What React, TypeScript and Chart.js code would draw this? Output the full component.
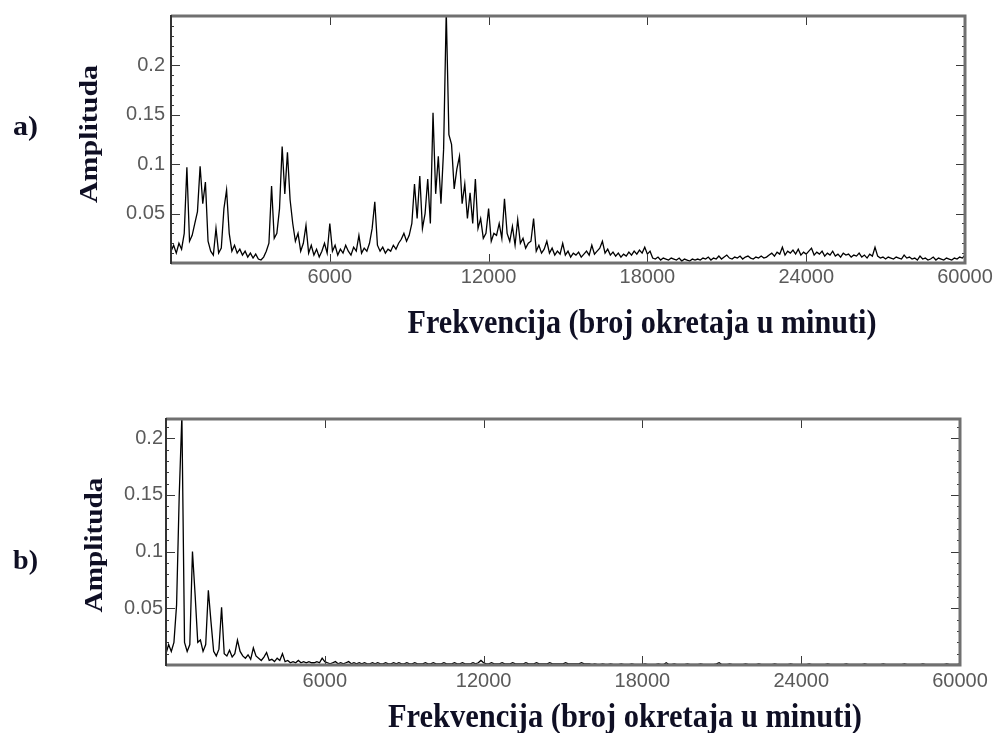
import React, { useEffect, useRef } from "react";
import { Chart, registerables } from "chart.js";

Chart.register(...registerables);

// ---------------- data ----------------
const FREQ_STEP = 100; // rpm per spectral bin
const X_MAX = 30000;
const X_TICK_VALUES = [6000, 12000, 18000, 24000, 30000];
const X_TICK_LABELS = ["6000", "12000", "18000", "24000", "60000"];
const Y_TICK_VALUES = [0.05, 0.1, 0.15, 0.2];
const Y_TICK_LABELS = ["0.05", "0.1", "0.15", "0.2"];
const Y_MINOR_STEP = 0.01;
const Y_MAX_A = 0.25;
const Y_MAX_B = 0.217;

const X_TITLE = "Frekvencija (broj okretaja u minuti)";
const Y_TITLE = "Amplituda";
const PANEL_LABELS = ["a)", "b)"];

// amplitude spectrum a) — one value per 100 rpm, 0 … 30000
const AMP_A = [
  0.012, 0.018, 0.010, 0.020, 0.014, 0.030, 0.097, 0.022, 0.028, 0.040,
  0.052, 0.098, 0.060, 0.082, 0.022, 0.012, 0.008, 0.035, 0.010, 0.015,
  0.055, 0.074, 0.030, 0.012, 0.018, 0.010, 0.014, 0.008, 0.012, 0.006,
  0.010, 0.005, 0.009, 0.004, 0.003, 0.006, 0.012, 0.020, 0.078, 0.025,
  0.030, 0.055, 0.118, 0.070, 0.112, 0.064, 0.040, 0.022, 0.030, 0.012,
  0.020, 0.038, 0.010, 0.018, 0.008, 0.014, 0.006, 0.012, 0.020, 0.010,
  0.040, 0.012, 0.018, 0.008, 0.014, 0.010, 0.018, 0.012, 0.008, 0.016,
  0.012, 0.028, 0.010, 0.015, 0.012, 0.020, 0.035, 0.062, 0.018, 0.012,
  0.016, 0.010, 0.014, 0.012, 0.018, 0.014, 0.020, 0.024, 0.030, 0.022,
  0.028, 0.040, 0.080, 0.045, 0.088, 0.035, 0.050, 0.085, 0.040, 0.152,
  0.070, 0.108, 0.060, 0.115, 0.255, 0.130, 0.120, 0.075, 0.095, 0.108,
  0.060, 0.080, 0.045, 0.071, 0.040, 0.085, 0.035, 0.045, 0.025, 0.030,
  0.055, 0.022, 0.030, 0.028, 0.040, 0.025, 0.065, 0.030, 0.022, 0.037,
  0.018, 0.044, 0.020, 0.025, 0.015, 0.020, 0.022, 0.045, 0.012, 0.018,
  0.010, 0.014, 0.022, 0.010, 0.015, 0.008, 0.012, 0.009, 0.020, 0.008,
  0.012, 0.006, 0.010, 0.008, 0.011, 0.006, 0.009, 0.012, 0.008, 0.018,
  0.009, 0.012, 0.015, 0.022, 0.010, 0.014, 0.008, 0.011, 0.007, 0.010,
  0.006, 0.009, 0.007, 0.011, 0.008, 0.012, 0.009, 0.013, 0.010, 0.016,
  0.009, 0.012, 0.005, 0.004, 0.006, 0.003, 0.005, 0.004, 0.003, 0.005,
  0.004, 0.003, 0.005, 0.002, 0.004, 0.003, 0.002, 0.004, 0.003, 0.004,
  0.003, 0.005, 0.004, 0.006, 0.003, 0.005, 0.004, 0.007, 0.004, 0.006,
  0.008, 0.005, 0.004, 0.006, 0.005, 0.007, 0.004, 0.006, 0.007, 0.005,
  0.004, 0.006, 0.005, 0.007, 0.005, 0.006, 0.008, 0.010, 0.007, 0.011,
  0.009, 0.016, 0.008, 0.012, 0.010, 0.013, 0.009, 0.014, 0.008, 0.011,
  0.009, 0.012, 0.015, 0.008, 0.011, 0.009, 0.012, 0.007, 0.010, 0.008,
  0.012, 0.007, 0.009, 0.006, 0.010, 0.008, 0.009, 0.006, 0.008, 0.007,
  0.010, 0.006, 0.008, 0.005, 0.009, 0.007, 0.016, 0.007, 0.005, 0.006,
  0.004, 0.006, 0.005, 0.004, 0.006, 0.005, 0.004, 0.008, 0.005, 0.006,
  0.004, 0.005, 0.003, 0.007, 0.004, 0.005, 0.003, 0.004, 0.006, 0.003,
  0.005, 0.004, 0.003, 0.005, 0.004, 0.003, 0.005, 0.004, 0.006, 0.005,
  0.008,
];

// amplitude spectrum b) — one value per 100 rpm, 0 … 30000
const AMP_B = [
  0.010, 0.018, 0.012, 0.020, 0.053, 0.150, 0.220, 0.020, 0.012, 0.018,
  0.100, 0.062, 0.020, 0.022, 0.012, 0.018, 0.066, 0.038, 0.012, 0.008,
  0.014, 0.051, 0.010, 0.008, 0.013, 0.007, 0.010, 0.022, 0.012, 0.008,
  0.006, 0.009, 0.005, 0.015, 0.008, 0.006, 0.004, 0.007, 0.011, 0.004,
  0.005, 0.003, 0.006, 0.004, 0.010, 0.003, 0.004, 0.002, 0.003, 0.002,
  0.004, 0.002, 0.003, 0.002, 0.003, 0.002, 0.002, 0.003, 0.002, 0.006,
  0.003, 0.002, 0.001, 0.002, 0.003, 0.001, 0.002, 0.001, 0.002, 0.003,
  0.001, 0.002, 0.001, 0.002, 0.001, 0.002, 0.001, 0.001, 0.002, 0.001,
  0.002, 0.001, 0.001, 0.002, 0.001, 0.001, 0.002, 0.001, 0.002, 0.001,
  0.001, 0.002, 0.001, 0.001, 0.002, 0.001, 0.001, 0.001, 0.002, 0.001,
  0.001, 0.002, 0.001, 0.001, 0.001, 0.002, 0.001, 0.001, 0.001, 0.002,
  0.001, 0.001, 0.002, 0.001, 0.001, 0.001, 0.002, 0.001, 0.002, 0.004,
  0.002, 0.001, 0.001, 0.002, 0.001, 0.001, 0.001, 0.002, 0.001, 0.001,
  0.001, 0.002, 0.001, 0.001, 0.001, 0.001, 0.002, 0.001, 0.001, 0.001,
  0.002, 0.001, 0.001, 0.001, 0.001, 0.002, 0.001, 0.001, 0.001, 0.001,
  0.001, 0.002, 0.001, 0.001, 0.001, 0.001, 0.001, 0.002, 0.001, 0.001,
  0.001, 0.0005, 0.001, 0.0005, 0.0005, 0.001, 0.0005, 0.0005, 0.001, 0.0005,
  0.0005, 0.0005, 0.001, 0.0005, 0.0005, 0.0005, 0.001, 0.0005, 0.0005, 0.0005,
  0.0005, 0.001, 0.0005, 0.0005, 0.0005, 0.0005, 0.001, 0.0005, 0.0005, 0.002,
  0.0005, 0.0005, 0.001, 0.0005, 0.0005, 0.0005, 0.0005, 0.001, 0.0005, 0.0005,
  0.0005, 0.0005, 0.001, 0.0005, 0.0005, 0.0005, 0.0005, 0.0005, 0.001, 0.002,
  0.0005, 0.0005, 0.0005, 0.001, 0.0005, 0.0005, 0.0005, 0.0005, 0.0005, 0.001,
  0.0005, 0.0005, 0.0005, 0.0005, 0.001, 0.0005, 0.0005, 0.0005, 0.0005, 0.0005,
  0.001, 0.0005, 0.0005, 0.0005, 0.0005, 0.0005, 0.001, 0.0005, 0.0005, 0.0005,
  0.0005, 0.0005, 0.0005, 0.001, 0.0005, 0.0005, 0.0005, 0.0005, 0.0005, 0.0005,
  0.001, 0.0005, 0.0005, 0.0005, 0.0005, 0.0005, 0.0005, 0.001, 0.0005, 0.0005,
  0.0005, 0.0005, 0.0005, 0.0005, 0.001, 0.0005, 0.0005, 0.0005, 0.0005, 0.0005,
  0.0005, 0.001, 0.0005, 0.0005, 0.0005, 0.0005, 0.0005, 0.0005, 0.0005, 0.001,
  0.0005, 0.0005, 0.0005, 0.0005, 0.0005, 0.0005, 0.001, 0.0005, 0.0005, 0.0005,
  0.0005, 0.0005, 0.0005, 0.0005, 0.0005, 0.001, 0.0005, 0.0005, 0.0005, 0.0005,
  0.001,
];

// ---------------- layout / style ----------------
const W = 995;
const SERIF = '"Liberation Serif", "Times New Roman", serif';
const SANS = '"Liberation Sans", Arial, sans-serif';
const TEXT_COLOR = "#0f0f24";
const TICK_LABEL_COLOR = "#5a5a5a";

type TextSpec = {
  text: string;
  x: number;
  y: number;
  size: number;
  width: number;
  rotate: boolean;
  align: "left" | "center";
};

type PanelLayout = {
  canvasTop: number;
  height: number;
  left: number;
  right: number;
  top: number;
  bottom: number;
  yTickPad: number;
  xTickPad: number;
  texts: TextSpec[];
};

const LAYOUT_A: PanelLayout = {
  canvasTop: 0,
  height: 365,
  left: 171,
  right: 965,
  top: 16,
  bottom: 263,
  yTickPad: 6,
  xTickPad: 2,
  texts: [
    { text: PANEL_LABELS[0], x: 13, y: 135, size: 27, width: 25, rotate: false, align: "left" },
    { text: Y_TITLE, x: 97, y: 134, size: 25, width: 138, rotate: true, align: "center" },
    { text: X_TITLE, x: 642, y: 333, size: 33, width: 469, rotate: false, align: "center" },
  ],
};

const LAYOUT_B: PanelLayout = {
  canvasTop: 365,
  height: 368,
  left: 166,
  right: 960,
  top: 54,
  bottom: 300,
  yTickPad: 3,
  xTickPad: 4,
  texts: [
    { text: PANEL_LABELS[1], x: 13, y: 204, size: 27, width: 25, rotate: false, align: "left" },
    { text: Y_TITLE, x: 102, y: 180, size: 25, width: 135, rotate: true, align: "center" },
    { text: X_TITLE, x: 625, y: 362, size: 33, width: 474, rotate: false, align: "center" },
  ],
};

function drawText(ctx: CanvasRenderingContext2D, t: TextSpec) {
  ctx.save();
  ctx.font = `bold ${t.size}px ${SERIF}`;
  ctx.fillStyle = TEXT_COLOR;
  const w = ctx.measureText(t.text).width;
  ctx.translate(t.x, t.y);
  if (t.rotate) ctx.rotate(-Math.PI / 2);
  ctx.scale(t.width / w, 1);
  ctx.textBaseline = "alphabetic";
  ctx.textAlign = t.align;
  ctx.fillText(t.text, 0, 0);
  ctx.restore();
}

const decorPlugin = {
  id: "decor",
  afterDraw(chart: any, _args: any, opts: any) {
    const { ctx, chartArea: a } = chart;
    const xs = chart.scales.x;
    const ys = chart.scales.y;
    ctx.save();

    // inward tick marks
    ctx.strokeStyle = "#3a3a3a";
    ctx.lineWidth = 1;
    ctx.beginPath();
    const yMax = ys.max;
    for (let k = 1; k * Y_MINOR_STEP < yMax - 1e-9; k++) {
      const py = Math.round(ys.getPixelForValue(k * Y_MINOR_STEP)) + 0.5;
      ctx.moveTo(a.left - 1, py);
      ctx.lineTo(a.left + 3, py);
      ctx.moveTo(a.right + 1, py);
      ctx.lineTo(a.right - 3, py);
    }
    Y_TICK_VALUES.forEach((v) => {
      const py = Math.round(ys.getPixelForValue(v)) + 0.5;
      ctx.moveTo(a.left, py);
      ctx.lineTo(a.left + 9, py);
      ctx.moveTo(a.right, py);
      ctx.lineTo(a.right - 9, py);
    });
    X_TICK_VALUES.forEach((v) => {
      if (v >= X_MAX) return;
      const px = Math.round(xs.getPixelForValue(v)) + 0.5;
      ctx.moveTo(px, a.top);
      ctx.lineTo(px, a.top + 9);
      ctx.moveTo(px, a.bottom);
      ctx.lineTo(px, a.bottom - 9);
    });
    ctx.stroke();

    // frame
    ctx.strokeStyle = "#707070";
    ctx.lineWidth = 3;
    ctx.beginPath();
    ctx.moveTo(a.left, a.top);
    ctx.lineTo(a.right, a.top);
    ctx.lineTo(a.right, a.bottom);
    ctx.lineTo(a.left, a.bottom);
    ctx.stroke();
    ctx.strokeStyle = "#333333";
    ctx.lineWidth = 2;
    ctx.beginPath();
    ctx.moveTo(a.left, a.top - 1);
    ctx.lineTo(a.left, a.bottom + 1);
    ctx.stroke();

    (opts.texts || []).forEach((t: TextSpec) => drawText(ctx, t));
    ctx.restore();
  },
};

function makeConfig(amps: number[], yMax: number, L: PanelLayout): any {
  const points = amps.map((v, i) => ({ x: i * FREQ_STEP, y: v }));
  return {
    type: "line",
    data: {
      datasets: [
        {
          data: points,
          borderColor: "#000000",
          borderWidth: 1.3,
          pointRadius: 0,
          tension: 0,
          fill: false,
        },
      ],
    },
    options: {
      animation: false,
      responsive: false,
      maintainAspectRatio: false,
      events: [],
      layout: {
        padding: { left: 0, top: L.top, right: W - L.right, bottom: 0 },
      },
      plugins: {
        legend: { display: false },
        tooltip: { enabled: false },
        decor: { texts: L.texts },
      },
      scales: {
        x: {
          type: "linear",
          min: 0,
          max: X_MAX,
          afterBuildTicks: (s: any) => {
            s.ticks = X_TICK_VALUES.map((v) => ({ value: v }));
          },
          afterFit: (s: any) => {
            s.height = L.height - L.bottom;
            s.paddingLeft = 0;
            s.paddingRight = 0;
          },
          ticks: {
            autoSkip: false,
            maxRotation: 0,
            minRotation: 0,
            padding: L.xTickPad,
            color: TICK_LABEL_COLOR,
            font: { family: SANS, size: 20 },
            callback: (v: number) => X_TICK_LABELS[X_TICK_VALUES.indexOf(v)] ?? "",
          },
          grid: { display: false, drawTicks: false },
          border: { display: false },
        },
        y: {
          type: "linear",
          min: 0,
          max: yMax,
          afterBuildTicks: (s: any) => {
            s.ticks = Y_TICK_VALUES.map((v) => ({ value: v }));
          },
          afterFit: (s: any) => {
            s.width = L.left;
            s.paddingTop = 0;
            s.paddingBottom = 0;
          },
          ticks: {
            padding: L.yTickPad,
            color: TICK_LABEL_COLOR,
            font: { family: SANS, size: 20 },
            callback: (v: number) => Y_TICK_LABELS[Y_TICK_VALUES.indexOf(v)] ?? "",
          },
          grid: { display: false, drawTicks: false },
          border: { display: false },
        },
      },
    },
    plugins: [decorPlugin],
  };
}

function Panel({ amps, yMax, layout }: { amps: number[]; yMax: number; layout: PanelLayout }) {
  const ref = useRef<HTMLCanvasElement>(null);
  useEffect(() => {
    if (!ref.current) return;
    const chart = new Chart(ref.current, makeConfig(amps, yMax, layout));
    return () => chart.destroy();
  }, [amps, yMax, layout]);
  return (
    <canvas
      ref={ref}
      width={W}
      height={layout.height}
      style={{ position: "absolute", left: 0, top: layout.canvasTop, width: W, height: layout.height }}
    />
  );
}

export default function App() {
  return (
    <div
      style={{
        position: "absolute",
        left: 0,
        top: 0,
        width: W,
        height: 733,
        background: "#ffffff",
        overflow: "hidden",
      }}
    >
      <Panel amps={AMP_A} yMax={Y_MAX_A} layout={LAYOUT_A} />
      <Panel amps={AMP_B} yMax={Y_MAX_B} layout={LAYOUT_B} />
    </div>
  );
}
